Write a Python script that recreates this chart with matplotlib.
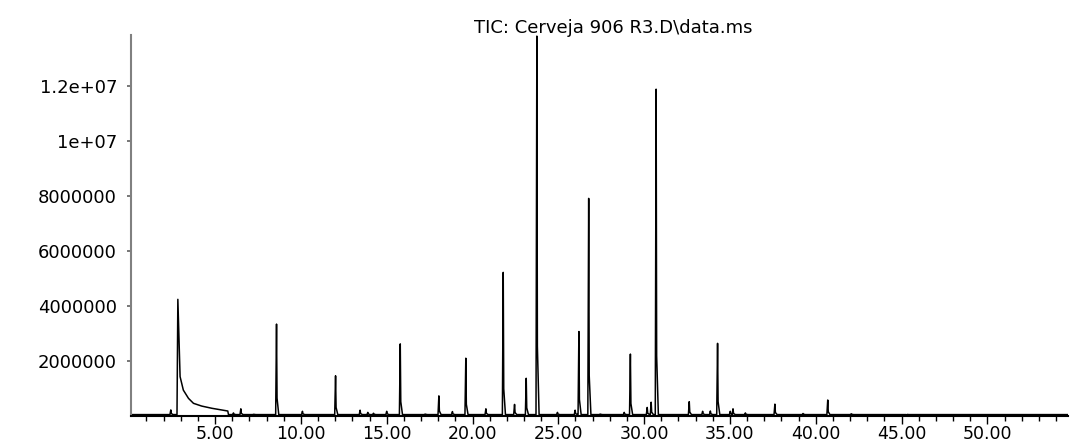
import matplotlib
matplotlib.use("Agg")
import matplotlib.pyplot as plt
from matplotlib.ticker import MultipleLocator, FixedLocator, FuncFormatter

plt.rcParams['font.family'] = ['DejaVu Sans']

# retention time (min) and abundance of each peak apex
peak_times = [2.42, 6.07, 6.50, 7.24, 8.58, 10.09, 12.02, 13.45, 13.90, 14.23,
              15.00, 15.79, 17.24, 18.04, 18.83, 19.61, 20.78, 21.79, 22.45, 23.13,
              23.75, 24.95, 25.98, 26.20, 26.77, 27.44, 28.84, 29.20, 30.18, 30.41,
              30.70, 32.63, 33.41, 33.86, 34.28, 35.02, 35.18, 35.90, 37.62, 39.26,
              40.70, 42.07, 45.30]
peak_heights = [0.21e6, 0.10e6, 0.25e6, 0.05e6, 3.33e6, 0.16e6, 1.45e6, 0.20e6, 0.12e6, 0.09e6,
                0.16e6, 2.61e6, 0.06e6, 0.72e6, 0.15e6, 2.09e6, 0.25e6, 5.21e6, 0.41e6, 1.36e6,
                13.8e6, 0.12e6, 0.20e6, 3.06e6, 7.90e6, 0.06e6, 0.12e6, 2.24e6, 0.30e6, 0.49e6,
                11.87e6, 0.51e6, 0.16e6, 0.17e6, 2.63e6, 0.16e6, 0.25e6, 0.10e6, 0.42e6, 0.08e6,
                0.57e6, 0.07e6, 0.03e6]

# solvent front: apex plus its long tail
solvent_times = [2.78, 2.83, 2.96, 3.15, 3.45, 3.74, 4.22, 4.81, 5.39, 5.74, 5.78]
solvent_values = [0.04e6, 4.23e6, 1.42e6, 0.93e6, 0.63e6, 0.45e6, 0.35e6, 0.27e6, 0.21e6, 0.17e6, 0.04e6]

baseline = 0.04e6
t_start, t_end = 0.1, 54.7

y_major = [2e6, 4e6, 6e6, 8e6, 10e6, 12e6]
y_labels = ['2000000', '4000000', '6000000', '8000000', '1e+07', '1.2e+07']
x_major = [5, 10, 15, 20, 25, 30, 35, 40, 45, 50]

# build the trace vertices: narrow peaks with a short tail
tx, ty = [t_start], [baseline]
events = [(t, 'p', h) for t, h in zip(peak_times, peak_heights)] + [(solvent_times[0], 's', 0)]
for t, kind, h in sorted(events):
    if kind == 's':
        tx += solvent_times
        ty += solvent_values
    else:
        tx += [t - 0.05, t, t + 0.03, t + 0.13]
        ty += [baseline, h, baseline + 0.18 * h, baseline]
tx.append(t_end)
ty.append(baseline)

fig = plt.figure(figsize=(10.7, 4.46), dpi=100)
ax = fig.add_axes([131 / 1070, 30.3 / 446, 937 / 1070, 380.7 / 446])
ax.plot(tx, ty, color='black', linewidth=1.1)

ax.set_xlim(t_start, t_end)
ax.set_ylim(0, 13.84e6)

for s in ['top', 'right']:
    ax.spines[s].set_visible(False)
ax.spines['left'].set_color('#808080')
ax.spines['left'].set_linewidth(1.5)
ax.spines['bottom'].set_color('black')
ax.spines['bottom'].set_linewidth(1.5)

ax.xaxis.set_major_locator(FixedLocator(x_major))
ax.xaxis.set_minor_locator(MultipleLocator(1))
ax.xaxis.set_major_formatter(FuncFormatter(lambda v, p: f'{v:.2f}'))
ax.yaxis.set_major_locator(FixedLocator(y_major))
ax.yaxis.set_minor_locator(MultipleLocator(400000))
ax.set_yticklabels(y_labels)

ax.tick_params(axis='x', which='major', length=6, width=1, direction='out', pad=1, labelsize=12.5)
ax.tick_params(axis='x', which='minor', length=3.5, width=1, direction='out')
ax.tick_params(axis='y', which='major', length=3, width=1.2, color='#606060', pad=7, labelsize=13)
ax.tick_params(axis='y', which='minor', length=1.5, width=1.2, color='#606060', direction='inout')

fig.text(613 / 1070, 1 - 28 / 446, 'TIC: Cerveja 906 R3.D\\data.ms', ha='center', va='center', fontsize=13)

fig.savefig('out.png', dpi=100)
